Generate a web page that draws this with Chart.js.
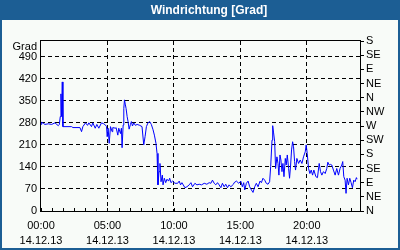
<!DOCTYPE html>
<html>
<head>
<meta charset="utf-8">
<script src="https://cdn.jsdelivr.net/npm/chart.js@4.4.1/dist/chart.umd.min.js"></script>
<style>
  html, body { margin: 0; padding: 0; background: #f8fbf8; }
  #wrap { width: 400px; height: 250px; position: relative; }
</style>
</head>
<body>
<div id="wrap"><canvas id="chart" width="400" height="250"></canvas></div>
<script>
// Messwerte: Stunde des Tages (14.12.13) und Windrichtung in Grad
const hours = [
  0.00, 0.05, 0.18, 0.30, 0.55, 0.80, 1.05, 1.30, 1.38, 1.45, 1.50, 1.55, 1.60, 1.65,
  2.30, 2.40, 2.93, 3.05, 3.15, 3.35, 3.50, 3.60, 3.80, 3.90, 4.08, 4.20, 4.35, 4.55,
  4.72, 4.85, 4.93, 4.98, 5.05, 5.13, 5.23, 5.35, 5.40, 5.60, 5.65, 5.78, 5.85, 5.98,
  6.05, 6.10, 6.18, 6.23, 6.28, 6.35, 6.40, 6.48, 6.55, 6.63, 6.73, 6.80, 6.88, 6.98,
  7.10, 7.23, 7.43, 7.60, 7.73, 7.83, 7.93, 8.05, 8.18, 8.30, 8.43, 8.53, 8.65, 8.73,
  8.80, 8.88, 8.95, 9.03, 9.13, 9.18, 9.28, 9.38, 9.48, 9.60, 9.68, 9.78, 9.90, 10.08,
  10.28, 10.40, 10.50, 10.60, 10.83, 10.98, 11.15, 11.28, 11.40, 11.58, 11.73, 11.90,
  12.08, 12.28, 12.48, 12.65, 12.78, 12.90, 13.03, 13.15, 13.28, 13.40, 13.53, 13.65,
  13.78, 13.90, 14.03, 14.15, 14.28, 14.48, 14.53, 14.70, 14.88, 15.03, 15.15, 15.25,
  15.33, 15.45, 15.58, 15.70, 15.83, 15.95, 16.08, 16.20, 16.33, 16.48, 16.58, 16.70,
  16.83, 16.95, 17.08, 17.20, 17.28, 17.38, 17.43, 17.50, 17.58, 17.65, 17.75, 17.83,
  17.90, 17.98, 18.05, 18.13, 18.20, 18.28, 18.38, 18.45, 18.53, 18.63, 18.70, 18.78,
  18.85, 18.93, 19.00, 19.08, 19.15, 19.25, 19.38, 19.50, 19.63, 19.75, 19.88, 19.95,
  20.03, 20.13, 20.23, 20.33, 20.43, 20.53, 20.68, 20.80, 20.93, 21.03, 21.13, 21.25,
  21.38, 21.50, 21.58, 21.68, 21.78, 21.88, 22.00, 22.13, 22.25, 22.38, 22.50, 22.63,
  22.70, 22.78, 22.88, 22.95, 23.03, 23.13, 23.23, 23.33, 23.43, 23.53, 23.63, 23.73,
  23.78
]
const degrees = [
  275, 282, 278, 275, 277, 275, 280, 271, 275, 300, 372, 300, 410, 268,
  268, 265, 265, 252, 268, 280, 272, 280, 268, 280, 263, 275, 263, 280,
  277, 273, 268, 236, 263, 215, 268, 252, 265, 263, 265, 241, 263, 246,
  263, 201, 273, 326, 353, 337, 326, 300, 284, 260, 275, 284, 270, 280,
  272, 275, 272, 268, 210, 236, 268, 280, 284, 275, 258, 241, 215, 183,
  83, 125, 151, 93, 114, 83, 104, 90, 101, 95, 104, 90, 95, 88,
  88, 95, 83, 90, 74, 77, 83, 90, 77, 88, 83, 85,
  83, 88, 85, 90, 88, 98, 88, 83, 90, 83, 74, 88,
  77, 85, 74, 83, 77, 85, 90, 95, 88, 95, 77, 90,
  67, 88, 95, 77, 67, 59, 77, 88, 77, 95, 90, 104,
  98, 88, 85, 93, 141, 225, 271, 248, 220, 135, 172, 151,
  114, 178, 162, 125, 151, 109, 167, 146, 178, 135, 104, 146,
  194, 220, 204, 157, 130, 167, 151, 162, 151, 172, 188, 210,
  183, 135, 119, 130, 114, 130, 109, 106, 151, 125, 114, 125,
  119, 135, 155, 146, 148, 146, 130, 114, 135, 114, 135, 146,
  157, 109, 98, 56, 104, 83, 104, 90, 74, 98, 93, 106,
  101
]

// Achsenbeschriftungen
const timeTicks = [0, 5, 10, 15, 20]
const timeLabels = ['00:00', '05:00', '10:00', '15:00', '20:00']
const dateLabel = '14.12.13'
const gradTicks = [0, 70, 140, 210, 280, 350, 420, 490]
const compassTicks = [0, 45, 90, 135, 180, 225, 270, 315, 360, 405, 450, 495, 540]
const compassLabels = ['N', 'NE', 'E', 'SE', 'S', 'SW', 'W', 'NW', 'N', 'NE', 'E', 'SE', 'S']

const FONT = 'Liberation Sans, Arial, sans-serif'
const BLUE = '#1c5e94'

// Rahmen, Titelleiste, "Grad" und kleine Striche auf der Zeitachse
const decor = {
  id: 'decor',
  beforeDraw(chart) {
    const c = chart.ctx
    c.save()
    c.fillStyle = '#f8fbf8'
    c.fillRect(0, 0, chart.width, chart.height)
    c.fillStyle = BLUE
    c.fillRect(0, 0, chart.width, 20)
    c.fillRect(0, 20, 2, chart.height - 20)
    c.fillRect(chart.width - 2, 20, 2, chart.height - 20)
    c.fillRect(0, chart.height - 2, chart.width, 2)
    c.fillStyle = '#ffffff'
    c.font = 'bold 12px ' + FONT
    c.textAlign = 'center'
    c.textBaseline = 'middle'
    c.fillText('Windrichtung [Grad]', 209, 10.5)
    c.restore()
  },
  beforeDatasetsDraw(chart) {
    const c = chart.ctx
    const a = chart.chartArea
    const xs = chart.scales.x
    c.save()
    c.strokeStyle = '#000'
    c.lineWidth = 1
    c.strokeRect(Math.round(a.left) - 0.5, Math.round(a.top) - 0.5,
      Math.round(a.right - a.left) + 1, Math.round(a.bottom - a.top) + 1)
    c.beginPath()
    for (let h = 0; h <= 24; h += 5 / 6) {
      const px = Math.round(xs.getPixelForValue(h)) + 0.5
      c.moveTo(px, a.bottom)
      c.lineTo(px, a.bottom - 3)
    }
    c.stroke()
    c.fillStyle = '#000'
    c.font = '11px ' + FONT
    c.textAlign = 'right'
    c.textBaseline = 'middle'
    c.fillText('Grad', a.left - 4, a.top + 6)
    c.restore()
  }
}

const ctx = document.getElementById('chart').getContext('2d')
const chart = new Chart(ctx, {
  type: 'line',
  data: {
    datasets: [{
      data: hours.map((h, i) => ({ x: h, y: degrees[i] })),
      borderColor: '#0000ff',
      borderWidth: 1,
      pointRadius: 0,
      tension: 0,
      fill: false
    }]
  },
  options: {
    responsive: false,
    animation: false,
    devicePixelRatio: 1,
    layout: { padding: { top: 41, left: 0, right: 0, bottom: 0 } },
    plugins: {
      legend: { display: false },
      tooltip: { enabled: false }
    },
    scales: {
      x: {
        type: 'linear',
        min: 0,
        max: 24,
        afterBuildTicks: (s) => { s.ticks = timeTicks.map(v => ({ value: v })) },
        afterFit: (s) => { s.height = 39 },
        ticks: {
          autoSkip: false,
          maxRotation: 0,
          padding: 8,
          color: '#000',
          font: { family: FONT, size: 11, lineHeight: 1.35 },
          callback: (v) => [timeLabels[timeTicks.indexOf(v)], dateLabel]
        },
        grid: {
          color: (c) => (c.tick && c.tick.value === 0 ? 'rgba(0,0,0,0)' : '#000'),
          drawTicks: false
        },
        border: { display: false, dash: [4, 3] }
      },
      y: {
        position: 'left',
        min: 0,
        max: 540,
        afterBuildTicks: (s) => { s.ticks = gradTicks.map(v => ({ value: v })) },
        afterFit: (s) => { s.width = 41 },
        ticks: {
          autoSkip: false,
          padding: 4,
          color: '#000',
          font: { family: FONT, size: 11 }
        },
        grid: {
          color: (c) => (c.tick && c.tick.value === 0 ? 'rgba(0,0,0,0)' : '#000'),
          drawTicks: false
        },
        border: { display: false, dash: [4, 3] }
      },
      y2: {
        position: 'right',
        min: 0,
        max: 540,
        afterBuildTicks: (s) => { s.ticks = compassTicks.map(v => ({ value: v })) },
        afterFit: (s) => { s.width = 40 },
        ticks: {
          autoSkip: false,
          padding: 2,
          color: '#000',
          font: { family: FONT, size: 11 },
          callback: (v) => compassLabels[compassTicks.indexOf(v)]
        },
        grid: {
          drawOnChartArea: false,
          drawTicks: true,
          tickLength: 4,
          color: '#000'
        },
        border: { display: false }
      }
    }
  },
  plugins: [decor]
})
</script>
</body>
</html>
